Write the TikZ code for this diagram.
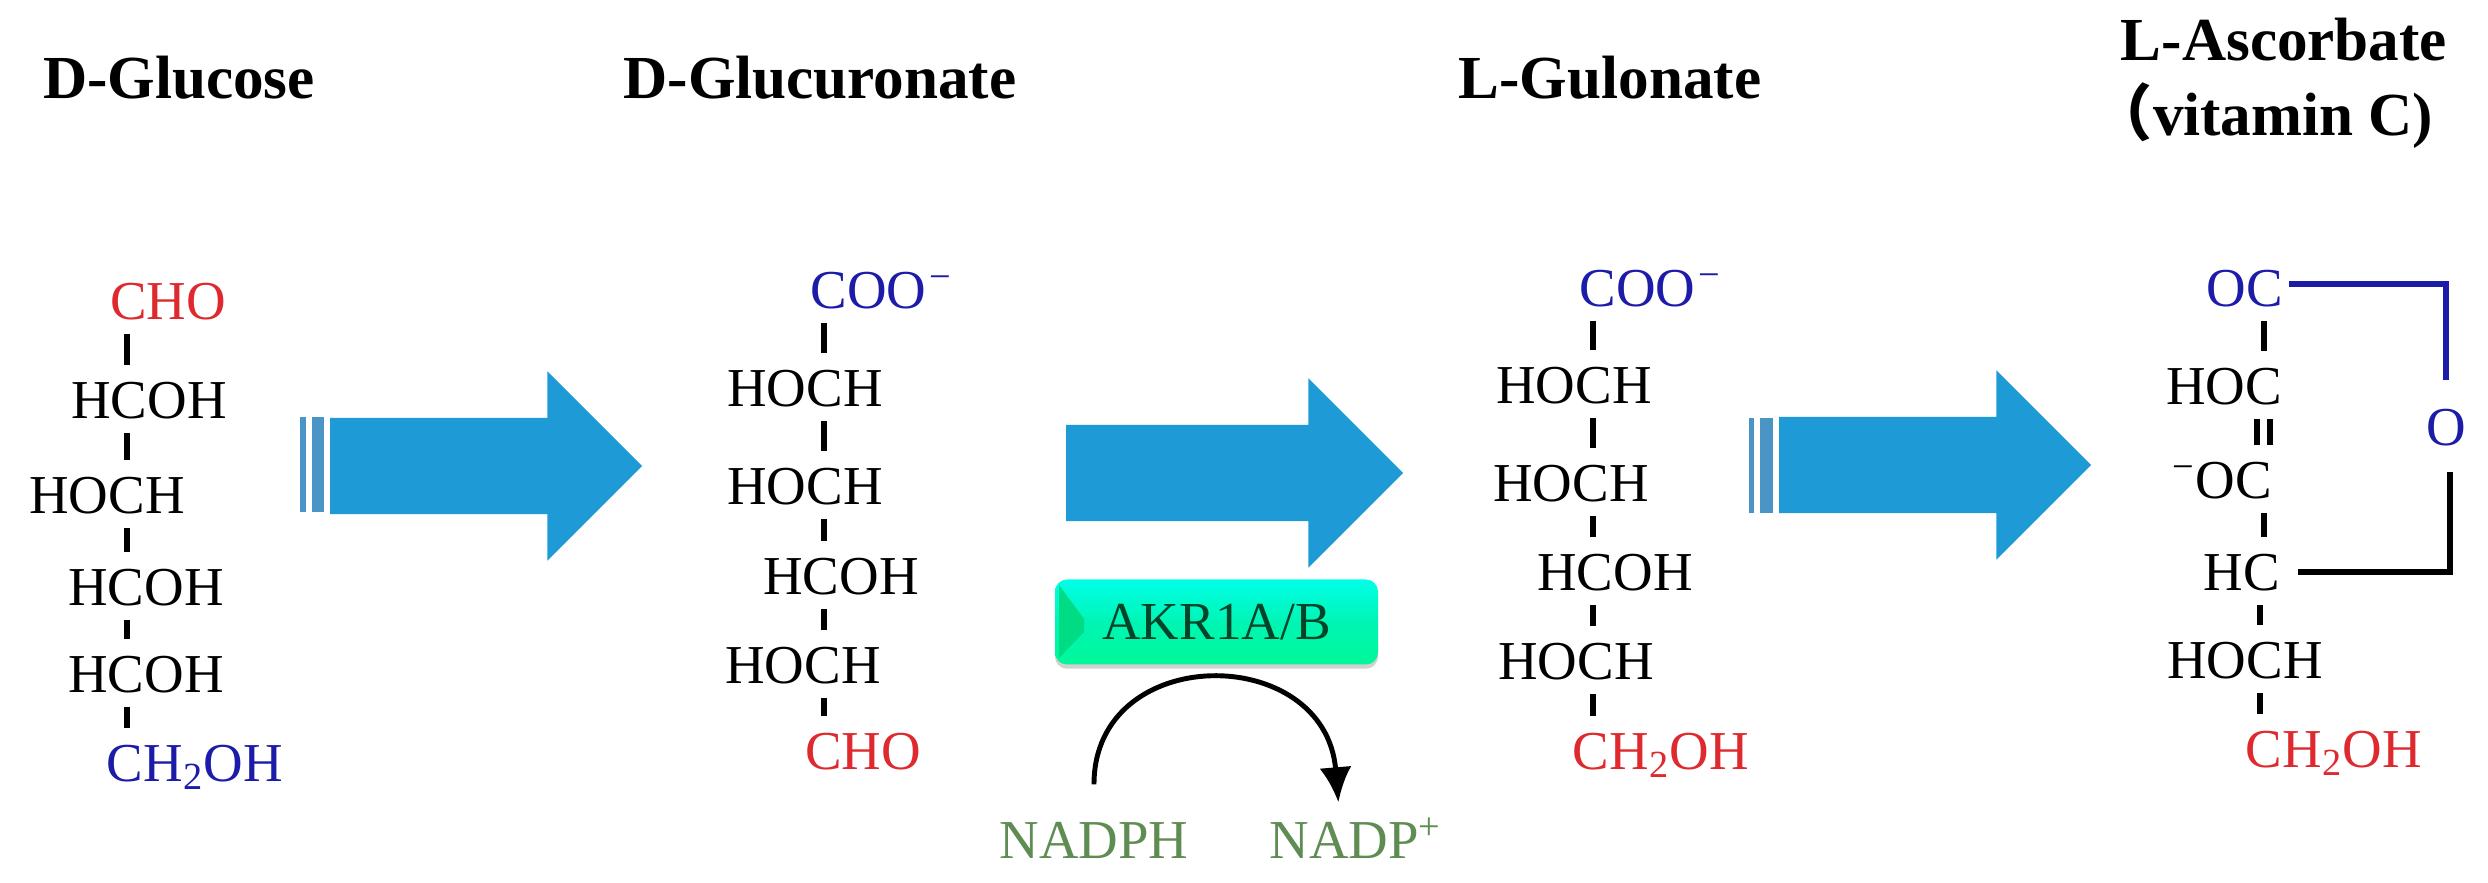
\documentclass[tikz,border=0pt]{standalone}
\usepackage{fontspec}
\setmainfont{Liberation Serif}
\newfontfamily\cjk{Noto Sans CJK SC}
\usepackage{xcolor}
\usetikzlibrary{arrows.meta,shapes.arrows,shadows}
\definecolor{flowblue}{HTML}{1E9AD6}
\definecolor{stripeblue}{HTML}{4A95C5}
\definecolor{aldred}{HTML}{DE2A2E}
\definecolor{acidblue}{HTML}{1C1CA8}
\definecolor{cofgreen}{HTML}{5F8C52}
\definecolor{enzdark}{HTML}{00452A}
\definecolor{enztop}{HTML}{00FFE8}
\definecolor{enzmid}{HTML}{00F5B4}
\definecolor{enzbottom}{HTML}{00F898}
\definecolor{enzbevel}{HTML}{00DC84}

\begin{document}
\begin{tikzpicture}[
						x=0.1mm, y=-0.1mm,
						title/.style={font=\fontsize{17.4}{20}\selectfont\bfseries, inner sep=0pt, text height=11.5pt, text depth=0pt},
						atom/.style={font=\fontsize{15.6}{18}\selectfont, inner sep=0pt, text height=10.3pt, text depth=0pt},
						redatom/.style={atom, text=aldred},
						blueatom/.style={atom, text=acidblue},
						cofactor/.style={atom, text=cofgreen},
						bond/.style={line width=1.6pt, shorten <=4pt, shorten >=4.6pt},
						flowarrow/.style={single arrow, fill=flowblue, inner sep=0pt, single arrow head extend=4.65mm, text height=9.5mm, text depth=0pt},
						stripe/.style={fill=stripeblue},
						enzyme/.style={draw=none, rounded corners=1.2mm, minimum width=32.3mm, minimum height=8.5mm, inner sep=0pt,
							top color=enztop, bottom color=enzbottom, middle color=enzmid,
							drop shadow={shadow xshift=0pt, shadow yshift=-1.2pt, opacity=.3, fill=black!60},
							text=enzdark, font=\fontsize{15.2}{18}\selectfont},
						cycle/.style={line width=1.7pt}
						]
						\useasboundingbox (0,0) rectangle (2488,883);
						
						\node[title] (tglucose) at (179,78) {D-Glucose};
						\node[title] (tglucuronate) at (820,78) {D-Glucuronate};
						\node[title] (tgulonate) at (1610,78) {L-Gulonate};
						\node[title] (tascorbate) at (2284,40) {L-Ascorbate};
						\node[title, anchor=east] (tvitamin) at (2434,115) {{\cjk （}vitamin C)};
						
						\coordinate (gaxis) at (127,0);
						\node[redatom] (gtop) at (168,301) {CHO};
						\node[atom] (ga) at (149,400) {HCOH};
						\node[atom] (gb) at (107,495) {HOCH};
						\node[atom] (gc) at (146,587) {HCOH};
						\node[atom] (gd) at (146,674) {HCOH};
						\node[blueatom] (gend) at (195,763) {CH\textsubscript{2}OH};
						\draw[bond] (gaxis |- gtop.south) -- (gaxis |- ga.north);
						\draw[bond] (gaxis |- ga.south) -- (gaxis |- gb.north);
						\draw[bond] (gaxis |- gb.south) -- (gaxis |- gc.north);
						\draw[bond] (gaxis |- gc.south) -- (gaxis |- gd.north);
						\draw[bond] (gaxis |- gd.south) -- (gaxis |- gend.north);
						
						\coordinate (uaxis) at (824,0);
						\node[blueatom] (utop) at (882,290) {COO\kern1pt\textsuperscript{−}};
						\node[atom] (ua) at (805,388) {HOCH};
						\node[atom] (ub) at (805,486) {HOCH};
						\node[atom] (uc) at (841,576) {HCOH};
						\node[atom] (ud) at (803,665) {HOCH};
						\node[redatom] (uend) at (863,751) {CHO};
						\draw[bond] (uaxis |- utop.south) -- (uaxis |- ua.north);
						\draw[bond] (uaxis |- ua.south) -- (uaxis |- ub.north);
						\draw[bond] (uaxis |- ub.south) -- (uaxis |- uc.north);
						\draw[bond] (uaxis |- uc.south) -- (uaxis |- ud.north);
						\draw[bond] (uaxis |- ud.south) -- (uaxis |- uend.north);
						
						\coordinate (laxis) at (1593,0);
						\node[blueatom] (ltop) at (1651,288) {COO\kern1pt\textsuperscript{−}};
						\node[atom] (la) at (1574,385) {HOCH};
						\node[atom] (lb) at (1571,483) {HOCH};
						\node[atom] (lc) at (1615,572) {HCOH};
						\node[atom] (ld) at (1576,661) {HOCH};
						\node[redatom] (lend) at (1661,751) {CH\textsubscript{2}OH};
						\draw[bond] (laxis |- ltop.south) -- (laxis |- la.north);
						\draw[bond] (laxis |- la.south) -- (laxis |- lb.north);
						\draw[bond] (laxis |- lb.south) -- (laxis |- lc.north);
						\draw[bond] (laxis |- lc.south) -- (laxis |- ld.north);
						\draw[bond] (laxis |- ld.south) -- (laxis |- lend.north);
						
						\coordinate (caxis) at (2264,0);
						\coordinate (daxis) at (2260,0);
						\coordinate (dblleft) at (2257,0);
						\coordinate (dblright) at (2270,0);
						\node[blueatom] (ctop) at (2245,288) {OC};
						\node[atom] (ca) at (2224,386) {HOC};
						\node[atom] (cb) at (2222,480) {\textsuperscript{−}OC};
						\node[atom] (cc) at (2242,572) {HC};
						\node[atom] (cd) at (2245,660) {HOCH};
						\node[redatom] (cend) at (2334,749) {CH\textsubscript{2}OH};
						\node[blueatom] (cring) at (2446,427) {O};
						\draw[bond] (caxis |- ctop.south) -- (caxis |- ca.north);
						\draw[bond] (dblleft |- ca.south) -- (dblleft |- cb.north);
						\draw[bond] (dblright |- ca.south) -- (dblright |- cb.north);
						\draw[bond] (caxis |- cb.south) -- (caxis |- cc.north);
						\draw[bond] (daxis |- cc.south) -- (daxis |- cd.north);
						\draw[bond] (daxis |- cd.south) -- (daxis |- cend.north);
						\draw[cycle, acidblue, shorten <=1.4pt, shorten >=8pt] ([yshift=1pt]ctop.east) -| (cring.north);
						\draw[cycle, shorten <=5pt, shorten >=7.4pt] (cc.east) -| ([xshift=1pt]cring.south);
						
						\node[flowarrow, minimum height=31.2mm] (arrowa) at (462,466) {};
						\fill[stripe] (300,417) rectangle (306,512);
						\fill[stripe] (312,417) rectangle (324,512);
						\node[flowarrow, minimum height=33.7mm] (arrowb) at (1210.5,473) {};
						\node[flowarrow, minimum height=31.2mm] (arrowc) at (1911,465) {};
						\fill[stripe] (1749,418) rectangle (1754,513);
						\fill[stripe] (1760,418) rectangle (1773,513);
						
						\node[enzyme] (akr) at (1216.5,622) {AKR1A/B};
						\fill[enzbevel] (1059,585) -- (1084,619) -- (1084,632) -- (1059,658) -- cycle;
						\node[cofactor] (nadph) at (1094,840) {NADPH};
						\node[cofactor] (nadp) at (1356,840) {NADP\textsuperscript{+}};
						\draw[line width=1.4pt, -{Latex[length=3.5mm, width=3.2mm]}, shorten <=10.5pt, shorten >=5.4pt] (nadph.north) .. controls (1094,642) and (1325,642) .. ([xshift=-1.6mm]nadp.north);
					\end{tikzpicture}
\end{document}
